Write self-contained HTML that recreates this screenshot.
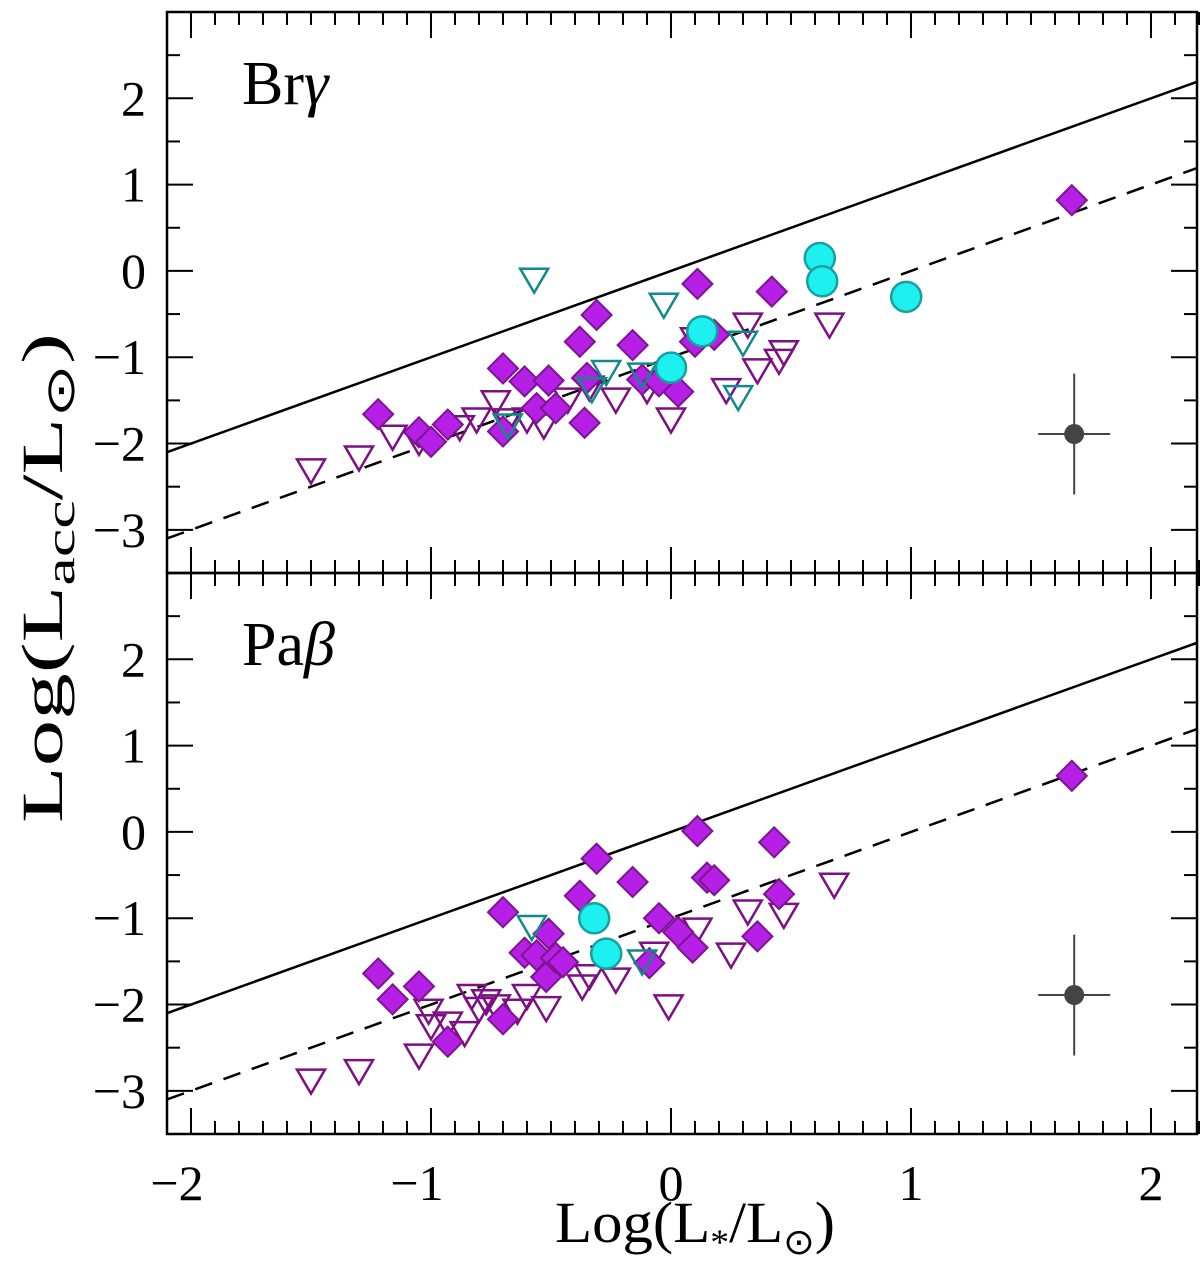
<!DOCTYPE html>
<html><head><meta charset="utf-8"><style>
html,body{margin:0;padding:0;background:#fff;}
svg{display:block;font-family:"Liberation Serif",serif;}
</style></head><body>
<svg id="chart" width="1200" height="1262" viewBox="0 0 1200 1262" xmlns="http://www.w3.org/2000/svg"></svg>
<script>
const xTicks=[-2,-1,0,1,2];
const yTicks=[-3,-2,-1,0,1,2];
const panels=["Brγ","Paβ"];
// top panel (Br gamma)
const brDiaX=[-1.22,-1.05,-1.0,-0.93,-0.70,-0.70,-0.61,-0.56,-0.51,-0.48,-0.36,-0.38,-0.31,-0.35,-0.16,-0.12,0.03,-0.05,0.18,0.10,0.11,0.42,1.67];
const brDiaY=[-1.66,-1.87,-1.98,-1.78,-1.13,-1.86,-1.28,-1.59,-1.27,-1.59,-1.76,-0.82,-0.51,-1.24,-0.86,-1.26,-1.40,-1.28,-0.74,-0.82,-0.15,-0.24,0.82];
const brTriX=[-1.50,-1.30,-1.16,-1.05,-0.88,-0.81,-0.73,-0.68,-0.60,-0.53,-0.43,-0.34,-0.23,-0.10,0.00,0.10,0.23,0.32,0.36,0.45,0.47,0.66];
const brTriY=[-2.30,-2.15,-1.91,-1.97,-1.80,-1.71,-1.51,-1.72,-1.71,-1.78,-1.48,-1.34,-1.48,-1.37,-1.71,-0.78,-1.37,-0.61,-1.14,-1.03,-0.93,-0.61];
const brTealX=[-0.57,-0.03,0.30,0.28,-0.33,-0.27,-0.12,-0.68];
const brTealY=[-0.09,-0.38,-0.82,-1.45,-1.36,-1.16,-1.19,-1.78];
const brCircX=[0.62,0.63,0.98,0.13,0.00];
const brCircY=[0.15,-0.12,-0.30,-0.70,-1.12];
// bottom panel (Pa beta)
const paDiaX=[-1.22,-1.16,-1.05,-0.93,-0.70,-0.70,-0.61,-0.56,-0.51,-0.52,-0.48,-0.45,-0.38,-0.31,-0.16,-0.05,0.03,0.09,0.11,0.15,0.18,-0.09,0.36,0.45,0.43,1.67];
const paDiaY=[-1.64,-1.94,-1.79,-2.43,-2.17,-0.93,-1.40,-1.43,-1.18,-1.68,-1.46,-1.51,-0.74,-0.31,-0.58,-1.00,-1.16,-1.34,0.01,-0.53,-0.56,-1.52,-1.21,-0.72,-0.12,0.65];
const paTriX=[-1.50,-1.30,-1.05,-1.01,-1.00,-0.93,-0.86,-0.83,-0.80,-0.77,-0.73,-0.64,-0.60,-0.52,-0.37,-0.34,-0.23,-0.07,-0.01,0.11,0.25,0.32,0.47,0.68];
const paTriY=[-2.87,-2.76,-2.58,-2.06,-2.24,-2.21,-2.32,-1.89,-2.04,-1.95,-2.01,-2.06,-1.89,-2.03,-1.78,-1.66,-1.70,-1.40,-2.01,-1.12,-1.41,-0.91,-0.95,-0.60];
const paTealX=[-0.58,-0.12];
const paTealY=[-1.09,-1.49];
const paCircX=[-0.32,-0.27];
const paCircY=[-1.00,-1.41];
const errX=[1.68,1.68];
const errY=[-1.89,-1.89];

const svg=document.getElementById('chart');
const NS='http://www.w3.org/2000/svg';
const L=167,R=1197,X0=671,XS=240;
const panelTop=[12,573],PH=561,YMAX=3.0,YMIN=-3.5,YS=PH/(YMAX-YMIN);
function sx(v){return X0+v*XS;}
function sy(p,v){return panelTop[p]+(YMAX-v)*YS;}
function mk(tag,attrs,parent){const e=document.createElementNS(NS,tag);for(const k in attrs)e.setAttribute(k,attrs[k]);(parent||svg).appendChild(e);return e;}

for(let p=0;p<2;p++){
  const g=mk('g',{});
  
  
  const T=panelTop[p],B=T+PH;
  const sol=mk('line',{x1:L,y1:sy(p,(L-X0)/XS),x2:R,y2:sy(p,(R-X0)/XS),stroke:'#000','stroke-width':2.5},g);
  
  
  const da=mk('line',{x1:L,y1:sy(p,(L-X0)/XS-1.0),x2:R,y2:sy(p,(R-X0)/XS-1.0),stroke:'#000','stroke-width':2.5,'stroke-dasharray':'18,12'},g);
  
  
  const TX=p===0?brTriX:paTriX,TY=p===0?brTriY:paTriY;
  for(let i=0;i<TX.length;i++){
    const x=sx(TX[i]),y=sy(p,TY[i]);
    const t=mk('polygon',{points:`${x-14},${y-10} ${x+14},${y-10} ${x},${y+14}`,fill:'none',stroke:'#7d0f85','stroke-width':2.5},g);
    
    
  }
  const DX=p===0?brDiaX:paDiaX,DY=p===0?brDiaY:paDiaY;
  for(let i=0;i<DX.length;i++){
    const x=sx(DX[i]),y=sy(p,DY[i]);
    const d=mk('polygon',{points:`${x},${y-15} ${x+15},${y} ${x},${y+15} ${x-15},${y}`,fill:'#b61fe6',stroke:'#7d1590','stroke-width':2},g);
    
    
  }
  const EX=p===0?brTealX:paTealX,EY=p===0?brTealY:paTealY;
  for(let i=0;i<EX.length;i++){
    const x=sx(EX[i]),y=sy(p,EY[i]);
    const t=mk('polygon',{points:`${x-14},${y-10} ${x+14},${y-10} ${x},${y+14}`,fill:'none',stroke:'#138a8a','stroke-width':2.5},g);
    
    
  }
  const CX=p===0?brCircX:paCircX,CY=p===0?brCircY:paCircY;
  for(let i=0;i<CX.length;i++){
    const c=mk('circle',{cx:sx(CX[i]),cy:sy(p,CY[i]),r:15,fill:'#1ef0f0',stroke:'#16a0a0','stroke-width':2.5},g);
    
    
  }
  const ex=sx(errX[p]),ey=sy(p,errY[p]);
  const eb=mk('g',{},g);
  
  
  mk('line',{x1:ex,y1:sy(p,errY[p]+0.7),x2:ex,y2:sy(p,errY[p]-0.7),stroke:'#444','stroke-width':2},eb);
  mk('line',{x1:sx(errX[p]-0.15),y1:ey,x2:sx(errX[p]+0.15),y2:ey,stroke:'#444','stroke-width':2},eb);
  mk('circle',{cx:ex,cy:ey,r:10,fill:'#444'},eb);
  const fr=mk('rect',{x:L,y:T,width:R-L,height:PH,fill:'none',stroke:'#000','stroke-width':2.5},g);
  
  
  for(let k=-21;k<=22;k++){
    const v=k/10,x=sx(v),len=(k%10===0)?26:13;
    mk('line',{x1:x,y1:B,x2:x,y2:B-len,stroke:'#000','stroke-width':2},g);
    mk('line',{x1:x,y1:T,x2:x,y2:T+len,stroke:'#000','stroke-width':2},g);
  }
  for(let k=-7;k<=6;k++){
    const v=k/2,y=sy(p,v),len=(k%2===0)?26:13;
    mk('line',{x1:L,y1:y,x2:L+len,y2:y,stroke:'#000','stroke-width':2},g);
    mk('line',{x1:R,y1:y,x2:R-len,y2:y,stroke:'#000','stroke-width':2},g);
  }
  yTicks.forEach(v=>{
    const t=mk('text',{x:146,y:sy(p,v)+17,'text-anchor':'end','font-size':50},g);
    t.textContent=(v<0?'−':'')+Math.abs(v);
    
    
  });
  const lab=mk('text',{x:242,y:T+92,'font-size':62},g);
  lab.textContent=p===0?'Br':'Pa';
  const ts=mk('tspan',{'font-style':'italic'},lab);ts.textContent=p===0?'γ':'β';
  
  
}
xTicks.forEach(v=>{
  const t=mk('text',{x:sx(v)-(v<0?14:0),y:1200,'text-anchor':'middle','font-size':50});
  t.textContent=(v<0?'−':'')+Math.abs(v);
  
  
});
const xt=mk('text',{x:555,y:1242,'font-size':58,textLength:280,lengthAdjust:'spacingAndGlyphs'});
xt.innerHTML='Log(L<tspan font-size="36" dy="12">*</tspan><tspan dy="-12">/L</tspan><tspan font-size="36" dy="12">⊙</tspan><tspan dy="-12">)</tspan>';


const yt=mk('text',{x:-245,y:0,'font-size':58,textLength:490,lengthAdjust:'spacingAndGlyphs',transform:'translate(62,578) rotate(-90)'});
yt.innerHTML='Log(L<tspan font-size="40" dy="12">acc</tspan><tspan dy="-12">/L</tspan><tspan font-size="40" dy="12">⊙</tspan><tspan dy="-12">)</tspan>';


</script>
</body></html>
